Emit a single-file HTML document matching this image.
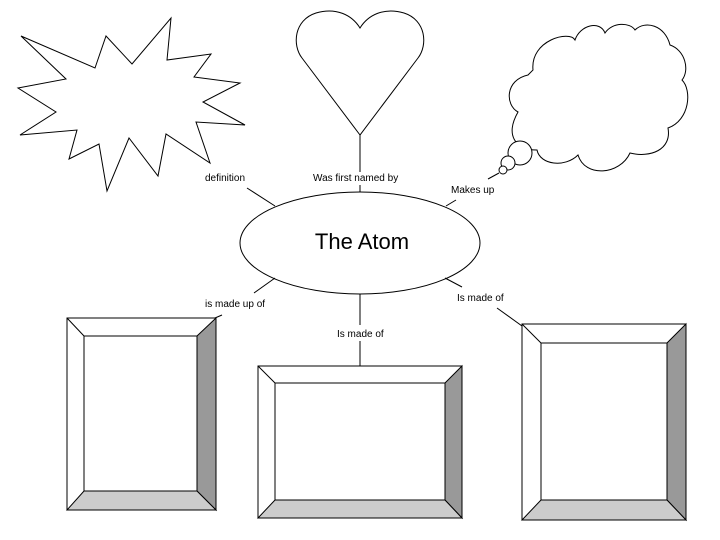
<!DOCTYPE html>
<html><head><style>
html,body{margin:0;padding:0;background:#fff;}
svg{display:block}
text{font-family:"Liberation Sans",sans-serif;}
</style></head><body>
<svg width="720" height="540" viewBox="0 0 720 540" xmlns="http://www.w3.org/2000/svg">
<g fill="none" stroke="#000" stroke-width="1">
<polygon fill="#fff" points="21,36 95,68 106,36 132,64 171,18 167,60 211,54 194,77 240,83 203,102 245,125 196,122 210,163 166,134 158,176 129,138 107,191 99,144 69,159 77,130 20,135 56,112 18,88 66,79"/>
<path fill="#fff" d="M360,135 L302,58 C292,45 294,20 316,13 C336,7 352,15 360,28 C368,15 384,7 404,13 C426,20 428,45 418,58 Z"/>
<path fill="#fff" d="M533,70 C530,40 570,30 575,40 C580,25 600,20 605,33 C612,22 630,22 635,30 C645,20 665,25 670,45 C685,50 690,70 682,80 C692,90 690,120 668,128 C672,150 650,158 630,153 C620,175 585,178 578,155 C565,168 540,165 537,150 C515,150 505,135 518,112 C505,105 505,80 528,75 Z"/>
<circle cx="520" cy="153" r="12" fill="#fff"/>
<circle cx="508" cy="163" r="7" fill="#fff"/>
<circle cx="503" cy="170" r="4" fill="#fff"/>
<line x1="499" y1="173" x2="488" y2="179"/>
<line x1="360" y1="135" x2="360" y2="172"/>
<line x1="360" y1="185" x2="360" y2="193"/>
<line x1="247" y1="188" x2="275" y2="206"/>
<line x1="446" y1="206" x2="456" y2="200"/>
<ellipse cx="360" cy="243" rx="120" ry="51" fill="#fff"/>
<line x1="275" y1="278" x2="254" y2="293"/>
<line x1="222" y1="315" x2="215" y2="318"/>
<line x1="360" y1="294" x2="360" y2="325"/>
<line x1="360" y1="341" x2="360" y2="366"/>
<line x1="445" y1="278" x2="462" y2="287"/>
<line x1="497" y1="308" x2="522" y2="326"/>
</g>
<g stroke="#000" stroke-width="1">
<rect x="67" y="318" width="149" height="192" fill="#fff"/>
<polygon points="197,336 216,318 216,510 197,491" fill="#999"/>
<polygon points="84,491 197,491 216,510 67,510" fill="#ccc"/>
<line x1="67" y1="318" x2="84" y2="336"/>
<rect x="84" y="336" width="113" height="155" fill="#fff"/>
<rect x="258" y="366" width="204" height="152" fill="#fff"/>
<polygon points="445,383 462,366 462,518 445,500" fill="#999"/>
<polygon points="275,500 445,500 462,518 258,518" fill="#ccc"/>
<line x1="258" y1="366" x2="275" y2="383"/>
<rect x="275" y="383" width="170" height="117" fill="#fff"/>
<rect x="522" y="324" width="164" height="196" fill="#fff"/>
<polygon points="667,343 686,324 686,520 667,500" fill="#999"/>
<polygon points="541,500 667,500 686,520 522,520" fill="#ccc"/>
<line x1="522" y1="324" x2="541" y2="343"/>
<rect x="541" y="343" width="126" height="157" fill="#fff"/>
</g>
<g font-size="10" fill="#000">
<text x="205" y="181">definition</text>
<text x="313" y="181">Was first named by</text>
<text x="451" y="193">Makes up</text>
<text x="205" y="307">is made up of</text>
<text x="337" y="337">Is made of</text>
<text x="457" y="301">Is made of</text>
</g>
<text x="362" y="249" font-size="22" text-anchor="middle">The Atom</text>
</svg>
</body></html>
